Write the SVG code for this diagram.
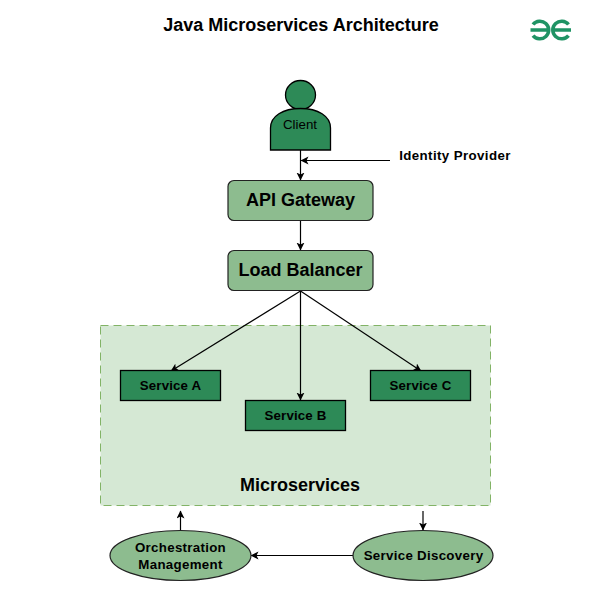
<svg xmlns="http://www.w3.org/2000/svg" width="601" height="611" viewBox="0 0 601 611">
<style>
text{font-family:"Liberation Sans",Arial,sans-serif;fill:#000;text-anchor:middle}
.b{font-weight:bold}
.t{font-size:13.3px}
.l{font-size:18px}
.s{fill:#2d8a57;stroke:#000;stroke-width:1.3}
.g{fill:#8dbc8f;stroke:#222;stroke-width:1.2}
.c{fill:none;stroke:#000;stroke-width:1.2;marker-end:url(#a)}
</style>
<defs><marker id="a" markerUnits="userSpaceOnUse" markerWidth="10" markerHeight="10" refX="7.5" refY="4" orient="auto"><path d="M0 0L8 4L0 8L2 4Z" fill="#000"/></marker></defs>
<rect width="601" height="611" fill="#fff"/>
<text class="b l" x="301" y="31">Java Microservices Architecture</text>
<g id="logo" fill="none" stroke="#1f9364" stroke-width="3.600">
<path d="M530.500 30H549.500M533 24.500A8.800 8.800 0 1 1 533 35.500"/>
<path d="M552 30H571M568.500 24.500A8.800 8.800 0 1 0 568.500 35.500"/>
</g>
<g id="microservices"><rect x="100.500" y="325.500" width="390" height="180" fill="#d5e8d4" stroke="#82b366" stroke-dasharray="8 5"/><text class="b l" x="300" y="491">Microservices</text></g>
<g id="connectors">
<path class="c" d="M300.500 150V180"/>
<path class="c" d="M390 160.500H301"/>
<path class="c" d="M300.500 220V250"/>
<path class="c" d="M300.500 291L171 371"/>
<path class="c" d="M300.500 291V400"/>
<path class="c" d="M300.500 291L421 371"/>
<path class="c" d="M180.500 530V511"/>
<path class="c" d="M423 511V530"/>
<path class="c" d="M353 555.500H251"/>
</g>
<g id="client"><ellipse cx="300.500" cy="95" rx="15" ry="14.500" class="s"/><path class="s" d="M270.500 150V128C270.500 116 283 108.500 300.500 108.500S330.500 116 330.500 128V150Z"/><text class="t" x="300" y="129">Client</text></g>
<g id="identity"><text class="b t" x="455" y="159.500" letter-spacing="0.4">Identity Provider</text></g>
<g id="gateway"><rect class="g" x="228" y="180.500" width="145" height="40" rx="6"/><text class="b l" x="300.500" y="206">API Gateway</text></g>
<g id="balancer"><rect class="g" x="228" y="250.500" width="145" height="40" rx="6"/><text class="b l" x="300.500" y="276">Load Balancer</text></g>
<g id="serviceA"><rect class="s" x="120.500" y="370.500" width="100" height="30"/><text class="b t" x="170.500" y="390" letter-spacing="0.15">Service A</text></g>
<g id="serviceB"><rect class="s" x="245.500" y="400.500" width="100" height="30"/><text class="b t" x="295.500" y="420" letter-spacing="0.15">Service B</text></g>
<g id="serviceC"><rect class="s" x="370.500" y="370.500" width="100" height="30"/><text class="b t" x="420.500" y="390" letter-spacing="0.15">Service C</text></g>
<g id="orchestration"><ellipse class="g" cx="180.500" cy="555.500" rx="70.500" ry="25"/><text class="b t" x="180.500" y="552" letter-spacing="0.3">Orchestration</text><text class="b t" x="180.500" y="569" letter-spacing="0.3">Management</text></g>
<g id="discovery"><ellipse class="g" cx="423" cy="555.500" rx="70" ry="25"/><text class="b t" x="423.500" y="560" letter-spacing="0.3">Service Discovery</text></g>
</svg>
